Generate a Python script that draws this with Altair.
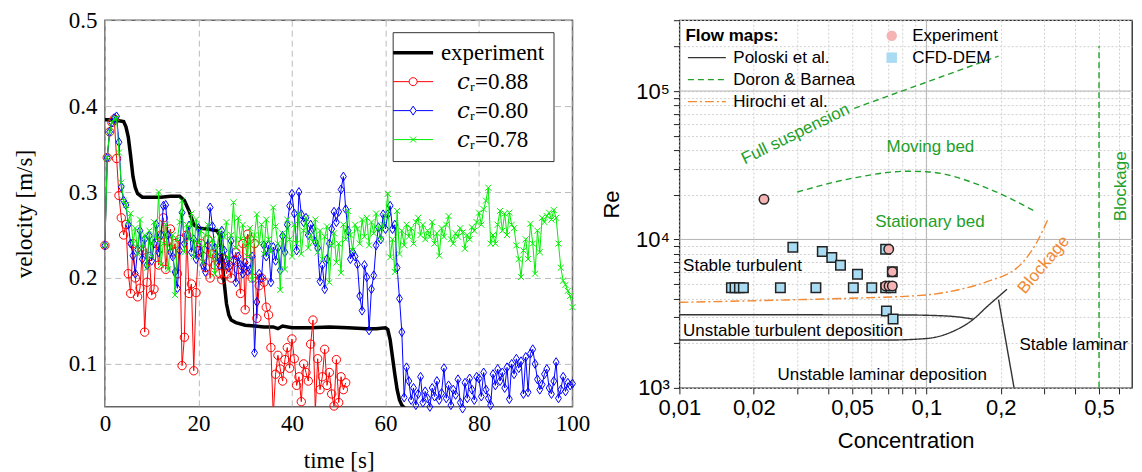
import altair as alt
import pandas as pd

# ---------------- left panel data ----------------
T_STEP = 0.5  # sampling interval of simulation series [s]

t_exp = [0, 1, 2, 3, 4, 4.5, 5, 5.5, 6, 6.5, 7, 8, 10, 12, 14, 16, 17, 18, 19, 20,
         22, 24, 24.5, 25, 25.5, 26, 26.5, 27, 28, 30, 32, 34, 36, 37, 38, 40,
         44, 48, 52, 56, 58, 60, 60.5, 61, 61.5, 62, 62.5, 63, 63.5, 64, 65]
v_exp = [0.384, 0.384, 0.383, 0.383, 0.382, 0.376, 0.364, 0.342, 0.318, 0.305, 0.298,
         0.294, 0.294, 0.294, 0.295, 0.295, 0.290, 0.278, 0.262, 0.258,
         0.257, 0.255, 0.250, 0.225, 0.195, 0.170, 0.157, 0.151, 0.148, 0.145, 0.144,
         0.143, 0.143, 0.141, 0.144, 0.142, 0.142, 0.143, 0.142, 0.141, 0.141, 0.142,
         0.140, 0.128, 0.108, 0.088, 0.070, 0.058, 0.052, 0.049, 0.046]

v_088 = [0.238, 0.340, 0.370, 0.381, 0.385, 0.339, 0.296, 0.270, 0.250, 0.262,
         0.205, 0.182, 0.240, 0.200, 0.178, 0.188, 0.232, 0.137, 0.195, 0.225,
         0.180, 0.187, 0.240, 0.215, 0.250, 0.270, 0.210, 0.243, 0.257, 0.230,
         0.240, 0.205, 0.245, 0.098, 0.131, 0.250, 0.182, 0.193, 0.092, 0.183,
         0.232, 0.240, 0.225, 0.212, 0.245, 0.200, 0.228, 0.215, 0.232, 0.205,
         0.198, 0.222, 0.205, 0.215, 0.200, 0.220, 0.230, 0.210, 0.182, 0.240,
         0.163, 0.251, 0.245, 0.200, 0.240, 0.153, 0.191, 0.200, 0.195, 0.166,
         0.157, 0.119, 0.040, 0.088, 0.110, 0.094, 0.080, 0.105, 0.119, 0.095,
         0.129, 0.106, 0.075, 0.085, 0.056, 0.100, 0.090, 0.080, 0.123, 0.151,
         0.045, 0.106, 0.070, 0.085, 0.117, 0.075, 0.090, 0.065, 0.051, 0.105,
         0.055, 0.085, 0.070, 0.078]

v_080 = [0.238, 0.340, 0.370, 0.381, 0.386, 0.388, 0.358, 0.306, 0.290, 0.285,
         0.262, 0.240, 0.226, 0.205, 0.233, 0.255, 0.222, 0.245, 0.215, 0.249,
         0.220, 0.240, 0.262, 0.230, 0.250, 0.284, 0.285, 0.250, 0.230, 0.225,
         0.207, 0.188, 0.232, 0.276, 0.240, 0.250, 0.261, 0.230, 0.245, 0.222,
         0.258, 0.230, 0.215, 0.207, 0.238, 0.282, 0.260, 0.235, 0.225, 0.215,
         0.255, 0.232, 0.220, 0.212, 0.243, 0.220, 0.195, 0.225, 0.215, 0.205,
         0.218, 0.208, 0.210, 0.225, 0.113, 0.172, 0.205, 0.200, 0.238, 0.225,
         0.238, 0.195, 0.236, 0.220, 0.235, 0.209, 0.249, 0.230, 0.262, 0.284,
         0.298, 0.275, 0.232, 0.300, 0.274, 0.265, 0.270, 0.250, 0.262, 0.257,
         0.242, 0.235, 0.196, 0.215, 0.187, 0.222, 0.240, 0.257, 0.277, 0.265,
         0.277, 0.303, 0.318, 0.280, 0.255, 0.222, 0.230, 0.225, 0.216, 0.179,
         0.162, 0.215, 0.201, 0.139, 0.187, 0.203, 0.238, 0.259, 0.245, 0.274,
         0.257, 0.274, 0.284, 0.257, 0.262, 0.212, 0.176, 0.137, 0.061, 0.096,
         0.080, 0.058, 0.072, 0.052, 0.065, 0.085, 0.055, 0.068, 0.060, 0.050,
         0.072, 0.062, 0.080, 0.058, 0.066, 0.095, 0.060, 0.075, 0.052, 0.070,
         0.064, 0.082, 0.055, 0.048, 0.078, 0.060, 0.083, 0.070, 0.058, 0.085,
         0.083, 0.062, 0.090, 0.070, 0.060, 0.052, 0.088, 0.075, 0.094, 0.080,
         0.090, 0.072, 0.096, 0.059, 0.100, 0.088, 0.106, 0.095, 0.103, 0.065,
         0.108, 0.067, 0.112, 0.117, 0.100, 0.082, 0.070, 0.076, 0.088, 0.094,
         0.072, 0.065, 0.080, 0.102, 0.060, 0.070, 0.085, 0.068, 0.078, 0.075,
         0.077]

v_078 = [0.238, 0.340, 0.370, 0.381, 0.385, 0.386, 0.346, 0.311, 0.290, 0.285,
         0.265, 0.275, 0.240, 0.258, 0.228, 0.268, 0.235, 0.250, 0.212, 0.255,
         0.225, 0.265, 0.245, 0.300, 0.215, 0.240, 0.262, 0.210, 0.235, 0.250,
         0.180, 0.245, 0.265, 0.290, 0.230, 0.262, 0.245, 0.275, 0.225, 0.268,
         0.240, 0.255, 0.218, 0.250, 0.262, 0.225, 0.245, 0.205, 0.238, 0.255,
         0.230, 0.248, 0.265, 0.222, 0.250, 0.288, 0.235, 0.270, 0.245, 0.262,
         0.238, 0.225, 0.258, 0.198, 0.250, 0.274, 0.240, 0.262, 0.228, 0.268,
         0.245, 0.230, 0.282, 0.260, 0.240, 0.186, 0.252, 0.210, 0.268, 0.245,
         0.225, 0.262, 0.240, 0.275, 0.228, 0.255, 0.270, 0.235, 0.250, 0.242,
         0.268, 0.230, 0.255, 0.222, 0.248, 0.260, 0.195, 0.238, 0.252, 0.218,
         0.240, 0.206, 0.262, 0.245, 0.278, 0.250, 0.232, 0.262, 0.257, 0.240,
         0.268, 0.248, 0.270, 0.238, 0.265, 0.252, 0.275, 0.258, 0.245, 0.262,
         0.272, 0.298, 0.224, 0.245, 0.207, 0.278, 0.228, 0.255, 0.238, 0.262,
         0.248, 0.258, 0.240, 0.265, 0.270, 0.250, 0.262, 0.245, 0.255, 0.248,
         0.265, 0.240, 0.252, 0.226, 0.258, 0.248, 0.262, 0.272, 0.245, 0.240,
         0.252, 0.248, 0.258, 0.253, 0.234, 0.250, 0.245, 0.259, 0.255, 0.265,
         0.276, 0.262, 0.280, 0.290, 0.305, 0.240, 0.250, 0.240, 0.262, 0.278,
         0.255, 0.275, 0.250, 0.276, 0.262, 0.258, 0.238, 0.222, 0.201, 0.232,
         0.245, 0.222, 0.263, 0.240, 0.205, 0.255, 0.230, 0.270, 0.265, 0.272,
         0.276, 0.268, 0.279, 0.270, 0.240, 0.212, 0.197, 0.192, 0.185, 0.179,
         0.166]

KEYS = ["experiment", "cr088", "cr080", "cr078"]
LABELS = ["experiment", "\U0001D450\u1D63=0.88", "\U0001D450\u1D63=0.80", "\U0001D450\u1D63=0.78"]
COLORS = ["#000000", "#ff0000", "#0000ff", "#00ee00"]
X_TICKS = [0, 20, 40, 60, 80, 100]
Y_TICKS = [0.1, 0.2, 0.3, 0.4, 0.5]

rows = [{"series": "experiment", "t": t, "v": v} for t, v in zip(t_exp, v_exp)]
for key, vals in zip(KEYS[1:], [v_088, v_080, v_078]):
    rows += [{"series": key, "t": i * T_STEP, "v": v} for i, v in enumerate(vals)]
df_left = pd.DataFrame(rows)

SERIF = "Liberation Serif, Times New Roman, DejaVu Serif, serif"

# legend symbols (line + marker), unit box [-1,1]
LEG_CIRC = "M-1,0L-0.2,0M0.2,0L1,0M0.2,0A0.2,0.2,0,1,1,-0.2,0A0.2,0.2,0,1,1,0.2,0"
LEG_DIAM = "M-1,0L-0.15,0M0.15,0L1,0M0,-0.225L0.15,0L0,0.225L-0.15,0Z"
LEG_CROSS = "M-1,0L1,0M-0.15,-0.15L0.15,0.15M-0.15,0.15L0.15,-0.15"

label_expr = " : ".join(
    [f"datum.value === '{k}' ? '{l}'" for k, l in zip(KEYS[:-1], LABELS[:-1])]
) + f" : '{LABELS[-1]}'"
shape_expr = (f"datum.value === 'experiment' ? 'stroke' : datum.value === 'cr088' ? '{LEG_CIRC}' : "
              f"datum.value === 'cr080' ? '{LEG_DIAM}' : '{LEG_CROSS}'")
sw_expr = "datum.value === 'experiment' ? 3.5 : 1"

legend_left = alt.Legend(
    title=None, orient="none", legendX=288, legendY=12, direction="vertical",
    fillColor="white", strokeColor="#333333", padding=9, rowPadding=5,
    symbolSize=1600, symbolType={"expr": shape_expr}, symbolStrokeWidth={"expr": sw_expr},
    symbolFillColor="transparent", labelFont=SERIF, labelFontSize=23, labelAlign="center",
    labelColor="black", labelOffset=68, labelLimit=400, labelExpr=label_expr,
)

color_scale = alt.Scale(domain=KEYS, range=COLORS)

base = alt.Chart(df_left).encode(
    x=alt.X("t:Q", scale=alt.Scale(domain=[0, 100], nice=False),
            axis=alt.Axis(values=X_TICKS, title="time [s]", grid=True, gridDash=[6, 4],
                          gridColor="#bbbbbb", domain=False, ticks=False, labelFlush=False,
                          labelFont=SERIF, labelFontSize=23, labelColor="black",
                          labelPadding=6, titleFont=SERIF, titleFontSize=23,
                          titleFontWeight="normal", titleColor="black", titlePadding=14)),
    y=alt.Y("v:Q", scale=alt.Scale(domain=[0.05, 0.5], nice=False, zero=False),
            axis=alt.Axis(values=Y_TICKS, format=".1f", title="velocity [m/s]", grid=True,
                          gridDash=[6, 4], gridColor="#bbbbbb", domain=False, ticks=False,
                          labelFlush=False,
                          labelFont=SERIF, labelFontSize=23, labelColor="black",
                          labelPadding=8, titleFont=SERIF, titleFontSize=23,
                          titleFontWeight="normal", titleColor="black", titlePadding=32)),
)

PT_SHAPES = {"cr088": "circle", "cr080": "M0,-1L0.65,0L0,1L-0.65,0Z", "cr078": "M-1,-1L1,1M-1,1L1,-1"}
PT_SIZES = {"cr088": 70, "cr080": 81, "cr078": 36}

layers = []
for key, col in zip(KEYS, COLORS):
    layers.append(
        base.transform_filter(alt.datum.series == key)
        .mark_line(strokeWidth=3.5 if key == "experiment" else 1, clip=True)
        .encode(color=alt.Color("series:N", scale=color_scale, legend=legend_left))
    )
    if key != "experiment":
        layers.append(
            base.transform_filter((alt.datum.series == key) & (alt.datum.v >= 0.047))
            .mark_point(shape=PT_SHAPES[key], size=PT_SIZES[key], filled=False,
                        strokeWidth=1, color=col, opacity=1)
        )

left = alt.layer(*layers).properties(
    width=468, height=387, view=alt.ViewBackground(stroke="#666666", strokeWidth=1.5))

# ---------------- right panel data ----------------
SANS = "Liberation Sans, Arial, DejaVu Sans, sans-serif"
GREEN = "#22a02a"
ORANGE = "#f28a33"

cfd_c = [0.0288, 0.0379, 0.0414, 0.0449, 0.0526, 0.0684, 0.0728,
         0.01624, 0.0168, 0.0175, 0.01816, 0.02564, 0.0357, 0.0506, 0.0601, 0.0684, 0.0719,
         0.0689, 0.0733]
cfd_re = [8870, 8300, 7560, 6700, 5830, 8600, 6050,
          4720, 4720, 4720, 4720, 4720, 4720, 4720, 4720, 4720, 4720,
          3300, 2910]
exp_c = [0.022, 0.0704, 0.0728, 0.0684, 0.0706, 0.0728]
exp_re = [18630, 8600, 6050, 4860, 4860, 4860]

SRC = ["Experiment", "CFD-DEM"]
df_pts = pd.DataFrame(
    [{"src": "CFD-DEM", "c": c, "re": r} for c, r in zip(cfd_c, cfd_re)]
    + [{"src": "Experiment", "c": c, "re": r} for c, r in zip(exp_c, exp_re)]
)

MAPS = ["Poloski et al.", "Doron & Barnea", "Hirochi et al."]
MAP_COLORS = ["#333333", GREEN, ORANGE]
MAP_DASH = [[1, 0], [6, 4], [9, 3, 2, 3]]

segments = [
    ("Poloski et al.", "pu", [0.01, 0.08, 0.12, 0.14, 0.155], [3110, 3100, 3050, 2980, 2900]),
    ("Poloski et al.", "pl", [0.01, 0.07, 0.1, 0.129, 0.155, 0.176, 0.1995, 0.212],
     [2100, 2100, 2150, 2415, 2900, 3526, 4230, 4620]),
    ("Poloski et al.", "pv", [0.196, 0.2265], [3930, 1000]),
    ("Doron & Barnea", "ds", [0.051, 0.196], [76400, 172000]),
    ("Doron & Barnea", "da", [0.030, 0.0508, 0.0835, 0.1, 0.176, 0.272],
     [20880, 25950, 28800, 28600, 22200, 15630]),
    ("Doron & Barnea", "dv", [0.5, 0.5], [1000, 201000]),
    ("Hirochi et al.", "hi", [0.01, 0.0273, 0.05, 0.1, 0.14, 0.176, 0.24, 0.281, 0.313],
     [3770, 3912, 4020, 4230, 4650, 5200, 6740, 9690, 14080]),
]
lrows = []
for m, seg, cs, rs in segments:
    for i, (c, r) in enumerate(zip(cs, rs)):
        lrows.append({"map": m, "seg": seg, "i": i, "c": c, "re": r})
df_lines = pd.DataFrame(lrows)

ann_text = ["Full suspension", "Moving bed", "Stationary bed", "Blockage", "Blockage",
            "Stable turbulent", "Unstable turbulent deposition",
            "Unstable laminar deposition", "Stable laminar"]
ann_c = [0.0295, 0.1038, 0.1033, 0.615, 0.2985, 0.01035, 0.01035, 0.0662, 0.395]
ann_re = [51200, 42000, 13090, 22800, 6740, 6640, 2415, 1230, 1944]
ann_angle = [334, 0, 0, 270, 310, 0, 0, 0, 0]
ann_color = [GREEN, GREEN, GREEN, GREEN, ORANGE, "black", "black", "black", "black"]
ann_align = ["center", "center", "center", "center", "center", "left", "left", "center", "center"]
df_ann = pd.DataFrame({"text": ann_text, "c": ann_c, "re": ann_re, "angle": ann_angle,
                       "col": ann_color, "align": ann_align})

X_MINOR = [0.01, 0.02, 0.03, 0.04, 0.05, 0.06, 0.07, 0.08, 0.09, 0.1, 0.2, 0.3, 0.4, 0.5, 0.6]
X_LAB_VALS = [0.01, 0.02, 0.05, 0.1, 0.2, 0.5]
X_LAB_TEXT = ["0,01", "0,02", "0,05", "0,1", "0,2", "0,5"]
Y_MINOR = [1000, 2000, 3000, 4000, 5000, 6000, 7000, 8000, 9000,
           10000, 20000, 30000, 40000, 50000, 60000, 70000, 80000, 90000,
           100000, 200000, 300000]
Y_LAB_VALS = [1000, 10000, 100000]
Y_LAB_TEXT = ["10\u00b3", "10\u2074", "10\u2075"]
DEC_X = [0.1]
DEC_Y = [10000, 100000]

x_lab_expr = " : ".join([f"abs(datum.value - {v}) < 1e-9 ? '{t}'" for v, t in zip(X_LAB_VALS, X_LAB_TEXT)]) + " : ''"
y_lab_expr = " : ".join([f"abs(datum.value - {v}) < 1e-3 ? '{t}'" for v, t in zip(Y_LAB_VALS, Y_LAB_TEXT)]) + " : ''"

xr = alt.X("c:Q", scale=alt.Scale(type="log", domain=[0.01, 0.68], nice=False),
           axis=alt.Axis(values=X_MINOR, labelExpr=x_lab_expr, title="Concentration",
                         grid=True, gridDash=[2, 2], gridColor="#d0d0d0", domain=False,
                         tickSize=6, tickColor="#222222", labelFont=SANS, labelFontSize=22,
                         labelColor="black", labelPadding=4, labelOverlap=False, labelBound=False,
                         labelFlush=False,
                         titleFont=SANS, titleFontSize=22, titleFontWeight="normal",
                         titleColor="black", titlePadding=12))
yr = alt.Y("re:Q", scale=alt.Scale(type="log", domain=[1000, 300000], nice=False),
           axis=alt.Axis(values=Y_MINOR, labelExpr=y_lab_expr, title="Re",
                         grid=True, gridDash=[2, 2], gridColor="#d0d0d0", domain=False,
                         tickSize=6, tickColor="#222222", labelFont=SANS, labelFontSize=22,
                         labelColor="black", labelPadding=4, labelOverlap=False,
                         labelFlush=False,
                         titleFont=SANS, titleFontSize=22, titleFontWeight="normal",
                         titleColor="black", titlePadding=12))

rule_x = alt.Chart(pd.DataFrame({"c": DEC_X})).mark_rule(color="#b5b5b5", strokeWidth=1).encode(x=xr)
rule_y = alt.Chart(pd.DataFrame({"re": DEC_Y})).mark_rule(color="#b5b5b5", strokeWidth=1).encode(y=yr)

# long horizontal line symbol drawn from a small nominal symbol size
LEG_LINE = "M-3.8,0L3.8,0"
legend_maps = alt.Legend(title="Flow maps:", orient="none", legendX=6, legendY=8,
                         titleFont=SANS, titleFontSize=17, titleFontWeight="bold",
                         titleColor="black", titlePadding=4, labelFont=SANS, labelFontSize=17,
                         labelColor="black", labelOffset=18, symbolType=LEG_LINE,
                         symbolSize=100, symbolOffset=13, symbolStrokeWidth=1.3,
                         rowPadding=4, padding=0, labelLimit=300)
lines = alt.Chart(df_lines).mark_line(strokeWidth=1.4, interpolate="monotone", clip=True).encode(
    x=xr, y=yr, detail="seg:N", order="i:Q",
    color=alt.Color("map:N", scale=alt.Scale(domain=MAPS, range=MAP_COLORS), legend=legend_maps),
    strokeDash=alt.StrokeDash("map:N", scale=alt.Scale(domain=MAPS, range=MAP_DASH), legend=legend_maps),
)

legend_pts = alt.Legend(title=None, orient="none", legendX=204, legendY=7,
                        labelFont=SANS, labelFontSize=17, labelColor="black",
                        labelOffset=12, symbolSize=110, symbolStrokeColor="#222222",
                        symbolStrokeWidth=1.5, rowPadding=4, padding=0, labelLimit=300)
pts = alt.Chart(df_pts).mark_point(filled=False, stroke="#222222", strokeWidth=1.5,
                                   size=90, opacity=1).encode(
    x=xr, y=yr,
    shape=alt.Shape("src:N", scale=alt.Scale(domain=SRC, range=["circle", "square"]), legend=legend_pts),
    fill=alt.Fill("src:N", scale=alt.Scale(domain=SRC, range=["#f5b3b3", "#a9dcf2"]), legend=legend_pts),
    stroke=alt.value("#222222"),
    strokeWidth=alt.value(1.5),
)

ann_base = alt.Chart(df_ann).encode(
    x=xr, y=yr, text="text:N",
    angle=alt.Angle("angle:Q", scale=None),
    color=alt.Color("col:N", scale=None, legend=None),
)
ann_center = ann_base.transform_filter(alt.datum.align == "center").mark_text(
    font=SANS, fontSize=17, align="center", baseline="middle")
ann_left = ann_base.transform_filter(alt.datum.align == "left").mark_text(
    font=SANS, fontSize=17, align="left", baseline="middle")

right = alt.layer(rule_x, rule_y, lines, pts, ann_center, ann_left).properties(
    width=453, height=368, view=alt.ViewBackground(stroke="#222222", strokeWidth=1.3)
)

chart = alt.hconcat(left, right, spacing=9).resolve_scale(
    color="independent", strokeDash="independent", shape="independent", fill="independent"
).resolve_legend(
    color="independent", strokeDash="independent", shape="independent", fill="independent"
).properties(
    padding={"left": 4, "top": 0, "right": 0, "bottom": 0}
)

chart.save("out.html", embed_options={"renderer": "svg", "actions": False})
